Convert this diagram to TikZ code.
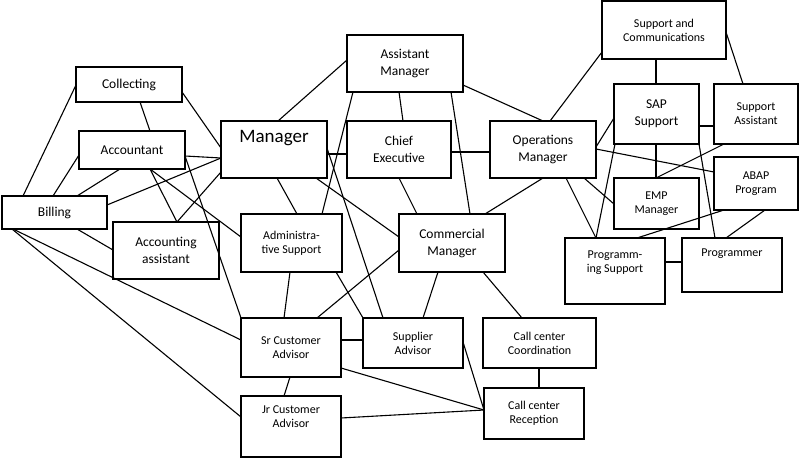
\documentclass[tikz,border=0pt]{standalone}
\usepackage{fontspec}
\setmainfont{Carlito}
\tikzset{box/.style={draw,line width=1.2pt,rectangle,anchor=north west,inner sep=0pt,outer sep=0pt,align=center,font=\fontsize{12}{14}\selectfont},
 big/.style={font=\fontsize{13.5}{17}\selectfont},
 edge/.style={line width=1.1pt}}
\newcommand\bx[7][]{\node[box,#1,minimum width=#5pt,minimum height=#6pt] (#2) at (#3,#4) {#7};}
\newcommand\edg[4]{\draw[edge] ([shift={#2}]#1.north west) -- ([shift={#4}]#3.north west);}
\begin{document}
\begin{tikzpicture}[x=1pt,y=-1pt]
\useasboundingbox (0,0) rectangle (800,458);
\fill[white] (0,0) rectangle (800,458);
\bx[big]{col}{76}{67}{106}{35}{Collecting}
\bx[big]{acc}{79}{131}{106}{38}{Accountant}
\bx[big]{bil}{2}{196}{105}{33}{Billing}
\bx[big]{aca}{113}{222}{106}{57}{Accounting\\assistant}
\bx[font=\fontsize{19}{22}\selectfont]{man}{221}{121}{106}{57}{Manager\\[-2pt]\strut}
\bx{adm}{241}{214}{101}{58}{Administra-\\tive Support}
\bx[big]{am}{347}{35}{116}{57}{Assistant\\Manager}
\bx[big]{ce}{347}{121}{104}{57}{Chief\\Executive}
\bx[big]{om}{490}{121}{106}{57}{Operations\\Manager}
\bx[big]{cm}{399}{214}{106}{58}{Commercial\\Manager}
\bx{sc}{602}{1}{124}{58}{Support and\\Communications}
\bx[big]{sap}{614}{84}{85}{60}{SAP\\Support}
\bx{sa}{714}{84}{84}{60}{Support\\Assistant}
\bx{emp}{614}{178}{85}{51}{EMP\\Manager}
\bx{abap}{714}{157}{84}{53}{ABAP\\Program}
\bx{ps}{565}{238}{100}{66}{Programm-\\ing Support\\[4pt]}
\bx{pr}{682}{238}{100}{54}{Programmer\\[10pt]}
\bx{sr}{241}{318}{100}{59}{Sr Customer\\Advisor}
\bx{sup}{363}{318}{100}{50}{Supplier\\Advisor}
\bx{ccc}{483}{318}{113}{50}{Call center\\Coordination}
\bx{jr}{241}{396}{100}{61}{Jr Customer\\Advisor\\[6pt]}
\bx{ccr}{484}{388}{100}{51}{Call center\\Reception}
\edg{col}{(0,18)}{bil}{(21,0)}
\edg{col}{(64,35)}{acc}{(71,0)}
\edg{col}{(106,25)}{man}{(0,27)}
\edg{acc}{(0,24)}{bil}{(51,0)}
\edg{acc}{(41,38)}{bil}{(75,0)}
\edg{acc}{(106,25)}{man}{(0,37)}
\edg{bil}{(105,9)}{man}{(0,37)}
\edg{acc}{(71,38)}{aca}{(64,0)}
\edg{aca}{(64,0)}{man}{(0,51)}
\edg{acc}{(71,38)}{adm}{(0,23)}
\edg{acc}{(106,25)}{sr}{(0,0)}
\edg{bil}{(75,33)}{aca}{(0,28)}
\edg{bil}{(10,33)}{jr}{(0,21)}
\edg{bil}{(11,33)}{sr}{(0,22)}
\edg{man}{(56,57)}{adm}{(56,0)}
\edg{man}{(57,0)}{am}{(0,25)}
\edg{man}{(106,33)}{ce}{(0,33)}
\edg{adm}{(81,0)}{am}{(6,57)}
\edg{man}{(106,27)}{sup}{(20,0)}
\edg{man}{(95,57)}{cm}{(0,23)}
\edg{am}{(104,57)}{cm}{(71,0)}
\edg{am}{(52,57)}{ce}{(56,0)}
\edg{am}{(116,50)}{om}{(53,0)}
\edg{ce}{(104,31)}{om}{(0,31)}
\edg{ce}{(52,57)}{cm}{(18,0)}
\edg{om}{(53,57)}{cm}{(86,0)}
\edg{om}{(60,0)}{sc}{(0,51)}
\edg{om}{(106,26)}{sap}{(0,34)}
\edg{om}{(106,28)}{abap}{(0,15)}
\edg{om}{(76,57)}{ps}{(31,0)}
\edg{om}{(94,57)}{emp}{(0,26)}
\edg{sc}{(54,58)}{sap}{(42,0)}
\edg{sc}{(124,31)}{sa}{(29,0)}
\edg{sap}{(85,42)}{sa}{(0,42)}
\edg{sap}{(42,60)}{emp}{(42,0)}
\edg{sap}{(1,60)}{ps}{(31,0)}
\edg{sap}{(85,60)}{pr}{(33,0)}
\edg{sa}{(10,60)}{emp}{(42,0)}
\edg{abap}{(10,53)}{ps}{(72,0)}
\edg{abap}{(51,53)}{pr}{(44,0)}
\edg{ps}{(100,24)}{pr}{(0,24)}
\edg{cm}{(39,58)}{sup}{(60,0)}
\edg{cm}{(84,58)}{ccc}{(39,0)}
\edg{cm}{(0,36)}{sr}{(76,0)}
\edg{adm}{(49,58)}{sr}{(43,0)}
\edg{adm}{(95,58)}{sup}{(0,0)}
\edg{sr}{(100,22)}{sup}{(0,22)}
\edg{sr}{(49,59)}{jr}{(43,0)}
\edg{sr}{(100,50)}{ccr}{(0,22)}
\edg{sup}{(100,24)}{ccr}{(0,22)}
\edg{jr}{(100,22)}{ccr}{(0,22)}
\edg{ccc}{(56,50)}{ccr}{(55,0)}
\end{tikzpicture}
\end{document}
